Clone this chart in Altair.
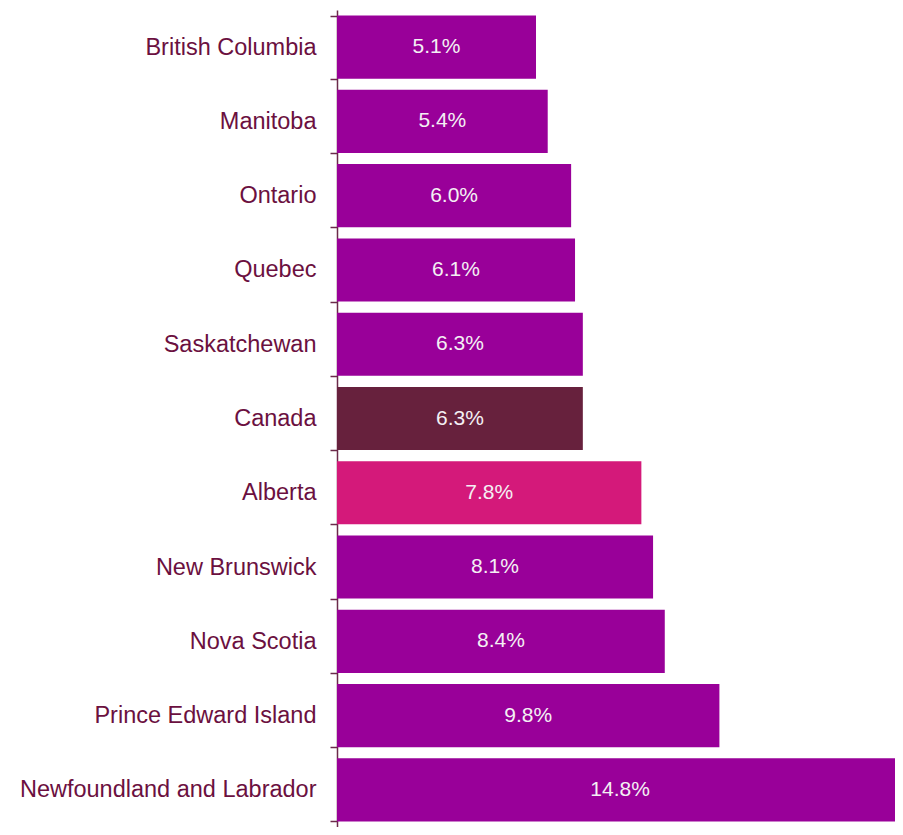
import altair as alt
import pandas as pd

provinces = ["British Columbia", "Manitoba", "Ontario", "Quebec", "Saskatchewan",
             "Canada", "Alberta", "New Brunswick", "Nova Scotia",
             "Prince Edward Island", "Newfoundland and Labrador"]
rates = [5.1, 5.4, 6.0, 6.1, 6.3, 6.3, 7.8, 8.1, 8.4, 9.8, 14.8]
groups = ["Province", "Province", "Province", "Province", "Province",
          "Canada", "Alberta", "Province", "Province", "Province", "Province"]
labels = ["5.1%", "5.4%", "6.0%", "6.1%", "6.3%", "6.3%", "7.8%", "8.1%",
          "8.4%", "9.8%", "14.8%"]

group_names = ["Province", "Canada", "Alberta"]
group_colors = ["#990099", "#67213D", "#D4197A"]

X_MAX = 14.3

df = pd.DataFrame({"province": provinces, "rate": rates, "group": groups, "label": labels})

y_scale = alt.Scale(paddingInner=0.15, paddingOuter=0.075)

y_enc = alt.Y("province:N", sort=provinces, title=None, scale=y_scale,
              axis=alt.Axis(labelFont="Liberation Sans", labelFontSize=23.5,
                            labelColor="#6B1040", labelPadding=14,
                            tickSize=7, tickColor="#6B2A4A", tickWidth=1.5,
                            tickBand="extent", domainColor="#6B2A4A",
                            domainWidth=1.5, labelLimit=400, grid=False))

x_scale = alt.Scale(domain=[0, X_MAX], nice=False, zero=True)

bars = alt.Chart(df).mark_bar(clip=True).encode(
    y=y_enc,
    x=alt.X("rate:Q", scale=x_scale, axis=None),
    color=alt.Color("group:N", scale=alt.Scale(domain=group_names, range=group_colors),
                    legend=None),
)

text = alt.Chart(df).transform_calculate(
    mid=f"min(datum.rate, 14.51) / 2"
).mark_text(font="Liberation Sans", fontSize=21, color="#F4F0F4",
            align="center", baseline="middle").encode(
    y=alt.Y("province:N", sort=provinces, title=None),
    x=alt.X("mid:Q", scale=x_scale, axis=None),
    text="label:N",
)

chart = alt.layer(bars, text).properties(
    width=558, height=817,
    background="white",
    autosize=alt.AutoSizeParams(type="none"),
    padding={"left": 329, "top": 2, "right": 0, "bottom": 0},
).configure_view(strokeWidth=0, stroke="transparent")

chart.save("out.html", embed_options={"renderer": "svg", "actions": False})
